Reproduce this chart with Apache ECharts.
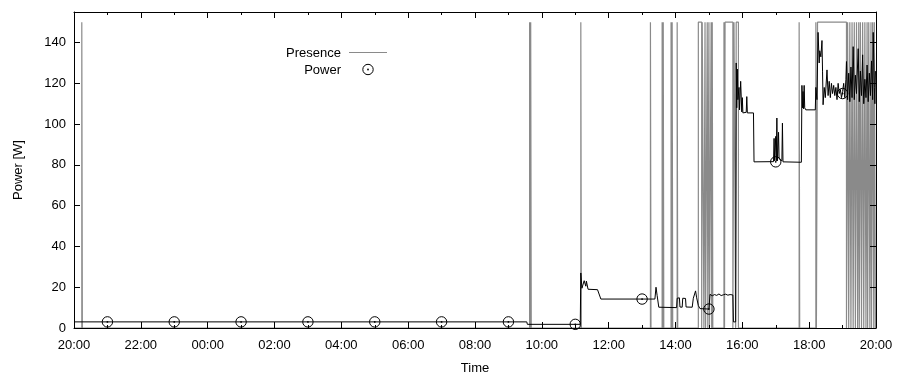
<!DOCTYPE html>
<html>
<head>
<meta charset="utf-8">
<script src="https://cdn.jsdelivr.net/npm/echarts@6/dist/echarts.min.js"></script>
<style>
  html, body { margin: 0; padding: 0; background: #fff; }
  #chart { width: 899px; height: 377px; }
</style>
</head>
<body>
<div id="chart"></div>
<script>
// Tick labels of the 24 h time axis (20:00 -> 20:00 next day)
const timeTicks = ['20:00', '22:00', '00:00', '02:00', '04:00', '06:00', '08:00',
  '10:00', '12:00', '14:00', '16:00', '18:00', '20:00'];

// Presence sensor: intervals [on, off] during which someone was present
const presenceOn = [
  ['20:14', '20:15'], ['09:38', '09:39'], ['09:40', '09:41'], ['11:10', '11:11'],
  ['13:15', '13:16'], ['13:36', '13:37'], ['13:38', '13:39'], ['13:52', '13:53'],
  ['13:54', '13:55'], ['14:03', '14:04'], ['14:41', '14:47'], ['14:48', '14:51'],
  ['14:53', '14:54'], ['14:57', '14:58'], ['15:00', '15:01'], ['15:04', '15:05'],
  ['15:06', '15:07'], ['15:27', '15:28'], ['15:29', '15:43'], ['15:45', '15:48'],
  ['15:49', '15:53'], ['17:42', '17:43'], ['18:12', '18:13'], ['18:15', '19:07'],
  ['19:09', '19:11'], ['19:13', '19:15'], ['19:17', '19:19'], ['19:21', '19:23'],
  ['19:25', '19:27'], ['19:29', '19:30'], ['19:32', '19:34'], ['19:36', '19:38'],
  ['19:40', '19:42'], ['19:44', '19:45'], ['19:47', '19:49'], ['19:51', '19:52'],
  ['19:54', '19:56'], ['19:57', '19:59']
];
const presenceLevel = 150;

// Power draw samples
const powerTimes = [
  '20:00', '09:33', '09:34', '11:09', '11:10', '11:12', '11:15', '11:16', '11:18', '11:19',
  '11:20', '11:22', '11:23', '11:40', '11:46', '13:23', '13:25', '13:27', '13:30', '14:02',
  '14:03', '14:07', '14:08', '14:12', '14:13', '14:18', '14:19', '14:30', '14:32', '14:36',
  '14:38', '14:41', '14:44', '15:00', '15:02', '15:06', '15:10', '15:14', '15:18', '15:22',
  '15:26', '15:30', '15:34', '15:38', '15:43', '15:44', '15:48', '15:49', '15:50', '15:51',
  '15:52', '15:54', '15:55', '15:57', '15:59', '16:00', '16:01', '16:07', '16:08', '16:09',
  '16:20', '16:21', '16:56', '16:57', '16:58', '17:00', '17:01', '17:02', '17:03', '17:05',
  '17:06', '17:11', '17:12', '17:13', '17:46', '17:47', '17:48', '17:49', '17:50', '17:51',
  '17:52', '17:54', '18:11', '18:12', '18:14', '18:16', '18:18', '18:19', '18:21', '18:23',
  '18:24', '18:25', '18:27', '18:29', '18:32', '18:34', '18:36', '18:38', '18:40', '18:42',
  '18:44', '18:46', '18:48', '18:50', '18:52', '18:54', '18:56', '18:58', '19:00', '19:02',
  '19:04', '19:06', '19:07', '19:09', '19:11', '19:13', '19:15', '19:17', '19:19', '19:21',
  '19:23', '19:25', '19:28', '19:30', '19:32', '19:34', '19:36', '19:38', '19:40', '19:42',
  '19:44', '19:46', '19:48', '19:50', '19:52', '19:54', '19:55', '19:57', '19:58', '19:59'
];
const powerWatts = [
  3.0, 3.0, 1.8, 1.8, 27.0, 19.5, 19.2, 23.2, 23.0, 20.5,
  23.0, 22.8, 19.0, 18.8, 14.2, 14.2, 20.0, 16.0, 10.2, 10.0,
  14.6, 14.8, 10.3, 10.2, 14.6, 14.5, 10.3, 10.2, 14.6, 18.2,
  14.8, 11.0, 9.5, 9.3, 16.5, 15.8, 16.4, 16.0, 16.7, 15.9,
  16.3, 16.6, 16.1, 16.4, 16.2, 3.0, 3.0, 130.0, 108.0, 127.0,
  112.0, 118.0, 107.0, 121.0, 106.0, 113.0, 105.5, 105.8, 113.5, 105.5,
  105.5, 81.5, 81.6, 93.0, 82.0, 94.0, 82.0, 103.0, 82.0, 96.0,
  83.0, 82.0, 100.5, 81.5, 81.3, 119.0, 108.0, 116.0, 107.5, 119.0,
  108.0, 107.0, 107.0, 118.0, 112.0, 145.0, 130.0, 136.0, 133.0, 141.0,
  126.0, 109.5, 118.0, 113.0, 126.6, 114.0, 121.0, 113.0, 120.0, 115.0,
  119.0, 114.0, 118.0, 112.0, 120.0, 115.0, 117.0, 113.0, 116.0, 120.0,
  113.0, 122.0, 130.7, 112.0, 125.0, 111.0, 128.0, 113.0, 138.0, 112.0,
  124.0, 115.0, 137.0, 111.0, 126.0, 114.0, 134.0, 110.0, 122.0, 113.0,
  129.0, 111.0, 125.0, 114.0, 131.0, 112.0, 145.0, 118.0, 110.0, 126.0
];

// Point markers on the power curve, every two hours
const markerTimes = ['21:00', '23:00', '01:00', '03:00', '05:00', '07:00', '09:00',
  '11:00', '13:00', '15:00', '17:00', '19:00'];
const markerWatts = [3.0, 3.0, 3.0, 3.0, 3.0, 3.0, 3.0, 1.8, 14.2, 9.3, 81.5, 115.0];

// Hours elapsed since 20:00 on the first day
function hoursSinceStart(s) {
  const [h, m] = s.split(':').map(Number);
  let t = h + m / 60 - 20;
  if (t < 0) t += 24;
  return t;
}

const presenceData = [[0, 0]];
presenceOn.forEach(([a, b]) => {
  const ta = hoursSinceStart(a), tb = hoursSinceStart(b);
  presenceData.push([ta, 0], [ta, presenceLevel], [tb, presenceLevel], [tb, 0]);
});
presenceData.push([24, 0]);

const powerData = powerTimes.map((t, i) => [hoursSinceStart(t), powerWatts[i]]);
const markerData = markerTimes.map((t, i) => [hoursSinceStart(t), markerWatts[i]]);

const FONT = "'Liberation Sans', Arial, Helvetica, sans-serif";
const textStyle = { fontFamily: FONT, fontSize: 13, color: '#000' };

function xAxisCfg(pos, labels) {
  return {
    type: 'value', position: pos, min: 0, max: 24, interval: 2, z: 10,
    axisLine: { show: true, onZero: false, lineStyle: { color: '#000', width: 1 } },
    axisTick: { show: true, inside: true, length: 6, lineStyle: { color: '#000', width: 1 } },
    minorTick: { show: true, splitNumber: 2, length: 3, lineStyle: { color: '#000', width: 1 } },
    splitLine: { show: false },
    axisLabel: labels ? Object.assign({
      show: true, margin: 11,
      formatter: v => timeTicks[Math.round(v / 2)]
    }, textStyle) : { show: false },
    name: labels ? 'Time' : '',
    nameLocation: 'middle', nameGap: 34,
    nameTextStyle: textStyle
  };
}

function yAxisCfg(pos, labels) {
  return {
    type: 'value', position: pos, min: 0, max: 155, interval: 20, z: 10,
    axisLine: { show: true, onZero: false, lineStyle: { color: '#000', width: 1 } },
    axisTick: { show: true, inside: true, length: 6, lineStyle: { color: '#000', width: 1 } },
    splitLine: { show: false },
    axisLabel: labels ? Object.assign({
      show: true, margin: 8, showMaxLabel: false,
      formatter: v => (v % 20 === 0 ? String(v) : '')
    }, textStyle) : { show: false },
    name: labels ? 'Power [W]' : '',
    nameLocation: 'middle', nameGap: 49, nameRotate: 90,
    nameTextStyle: textStyle
  };
}

const chart = echarts.init(document.getElementById('chart'), null, { renderer: 'canvas' });

chart.setOption({
  animation: false,
  backgroundColor: '#fff',
  grid: { left: 74, right: 23, top: 12, bottom: 49, outerBoundsMode: 'none', containLabel: false },
  xAxis: [xAxisCfg('bottom', true), xAxisCfg('top', false)],
  yAxis: [yAxisCfg('left', true), yAxisCfg('right', false)],
  series: [
    {
      name: 'Presence', type: 'line', data: presenceData, symbol: 'none',
      lineStyle: { color: '#8a8a8a', width: 1.2 }, z: 2
    },
    {
      name: 'Power line', type: 'line', data: powerData, symbol: 'none',
      lineStyle: { color: '#000', width: 1 }, z: 3
    },
    {
      name: 'Power', type: 'custom', data: markerData, z: 4,
      renderItem: (params, api) => {
        const p = api.coord([api.value(0), api.value(1)]);
        return {
          type: 'group',
          children: [
            { type: 'circle', shape: { cx: p[0], cy: p[1], r: 5.2 },
              style: { fill: 'none', stroke: '#000', lineWidth: 1 } },
            { type: 'circle', shape: { cx: p[0], cy: p[1], r: 0.9 },
              style: { fill: '#000' } }
          ]
        };
      }
    }
  ],
  graphic: [
    { type: 'text', x: 341, y: 53,
      style: { text: 'Presence', font: '13px ' + FONT, fill: '#000', align: 'right', verticalAlign: 'middle' } },
    { type: 'line', shape: { x1: 349, y1: 52.5, x2: 387, y2: 52.5 },
      style: { stroke: '#8a8a8a', lineWidth: 1.2 } },
    { type: 'text', x: 341, y: 70,
      style: { text: 'Power', font: '13px ' + FONT, fill: '#000', align: 'right', verticalAlign: 'middle' } },
    { type: 'circle', shape: { cx: 368, cy: 69.5, r: 5.2 },
      style: { fill: 'none', stroke: '#000', lineWidth: 1 } },
    { type: 'circle', shape: { cx: 368, cy: 69.5, r: 0.9 }, style: { fill: '#000' } }
  ]
});
</script>
</body>
</html>
